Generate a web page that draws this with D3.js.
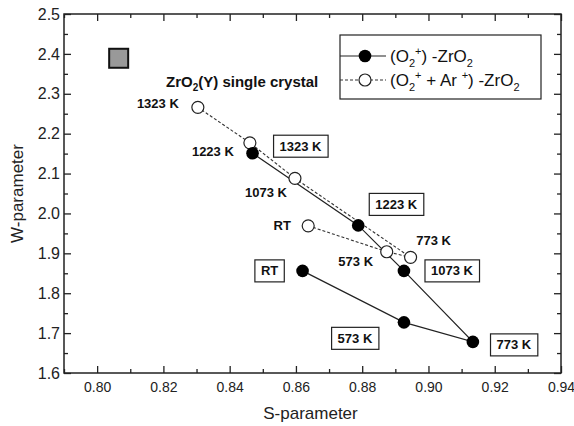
<!DOCTYPE html>
<html>
<head>
<meta charset="utf-8">
<script src="https://cdn.jsdelivr.net/npm/d3@7"></script>
<style>
  body { margin: 0; background: #fff; }
  svg { display: block; font-family: "Liberation Sans", Arial, sans-serif; }
</style>
</head>
<body>
<div id="chart"></div>
<script>
// temperatures, in the order the lines are drawn
const temps = ['RT', '573 K', '773 K', '1073 K', '1223 K', '1323 K'];

// (O2+) -ZrO2, filled circles, solid line
const sFilled = [0.862, 0.8926, 0.9134, 0.8926, 0.8788, 0.8469];
const wFilled = [1.856, 1.727, 1.678, 1.856, 1.970, 2.151];

// (O2+ + Ar+) -ZrO2, open circles, dashed line
const sOpen = [0.8637, 0.8874, 0.8946, 0.8597, 0.8461, 0.8304];
const wOpen = [1.969, 1.904, 1.890, 2.088, 2.177, 2.266];

// single crystal reference point
const sCrystal = [0.8065];
const wCrystal = [2.389];

const xTicks = [0.80, 0.82, 0.84, 0.86, 0.88, 0.90, 0.92, 0.94];
const yTicks = [1.6, 1.7, 1.8, 1.9, 2.0, 2.1, 2.2, 2.3, 2.4, 2.5];

// label placement (pixel offsets from each point)
const filledLabelOffset = [[-33, 0], [-49, 16], [41, 3], [48, 0], [38, -21], [48, -7]];
const openLabelOffset = [[-26, 0], [-31, 10], [23, -17], [-29, 14], [-37, 9], [-40, -4]];

const width = 574, height = 426;
const margin = { left: 64, right: 13, top: 14, bottom: 53 };

const svg = d3.select('#chart').append('svg')
    .attr('width', width)
    .attr('height', height);

const x = d3.scaleLinear().domain([0.79, 0.94]).range([margin.left, width - margin.right]);
const y = d3.scaleLinear().domain([1.6, 2.5]).range([height - margin.bottom, margin.top]);

const x0 = x.range()[0], x1 = x.range()[1];
const y0 = y.range()[0], y1 = y.range()[1];

// Axes with inward ticks
const fmtX = d3.format('.2f'), fmtY = d3.format('.1f');
const minorX = d3.range(0.79, 0.9401, 0.01).map(v => +v.toFixed(2)).filter(v => !xTicks.includes(v));
const minorY = d3.range(1.65, 2.5, 0.1).map(v => +v.toFixed(2));

function drawAxis(axis, transform) {
    const g = svg.append('g').attr('transform', transform).call(axis);
    g.select('.domain').remove();
    g.selectAll('line').attr('stroke', '#222').attr('stroke-width', 1.3);
    return g;
}

drawAxis(d3.axisBottom(x).tickValues(xTicks).tickFormat(fmtX).tickSize(-7).tickPadding(9), `translate(0,${y0})`)
    .selectAll('text').attr('font-size', 14).attr('fill', '#222');
drawAxis(d3.axisBottom(x).tickValues(minorX).tickFormat('').tickSize(-4), `translate(0,${y0})`);
drawAxis(d3.axisTop(x).tickValues(xTicks).tickFormat('').tickSize(-7), `translate(0,${y1})`);
drawAxis(d3.axisTop(x).tickValues(minorX).tickFormat('').tickSize(-4), `translate(0,${y1})`);

drawAxis(d3.axisLeft(y).tickValues(yTicks).tickFormat(fmtY).tickSize(-7).tickPadding(4), `translate(${x0},0)`)
    .selectAll('text').attr('font-size', 16).attr('fill', '#222');
drawAxis(d3.axisLeft(y).tickValues(minorY).tickFormat('').tickSize(-4), `translate(${x0},0)`);
drawAxis(d3.axisRight(y).tickValues(yTicks).tickFormat('').tickSize(-7), `translate(${x1},0)`);
drawAxis(d3.axisRight(y).tickValues(minorY).tickFormat('').tickSize(-4), `translate(${x1},0)`);

// Frame
svg.append('rect')
    .attr('x', x0).attr('y', y1)
    .attr('width', x1 - x0).attr('height', y0 - y1)
    .attr('fill', 'none')
    .attr('stroke', '#222')
    .attr('stroke-width', 1.5);

// Axis titles
svg.append('text')
    .attr('x', (x0 + x1) / 2 - 2)
    .attr('y', 419)
    .attr('text-anchor', 'middle')
    .attr('font-size', 17)
    .attr('fill', '#222')
    .text('S-parameter');

svg.append('text')
    .attr('transform', `translate(23,${(y0 + y1) / 2}) rotate(-90)`)
    .attr('text-anchor', 'middle')
    .attr('font-size', 17)
    .attr('fill', '#222')
    .text('W-parameter');

// Series
const filled = temps.map((t, i) => ({ t, s: sFilled[i], w: wFilled[i], off: filledLabelOffset[i] }));
const open = temps.map((t, i) => ({ t, s: sOpen[i], w: wOpen[i], off: openLabelOffset[i] }));

const line = d3.line().x(d => x(d.s)).y(d => y(d.w));

svg.append('path')
    .datum(open)
    .attr('d', line)
    .attr('fill', 'none')
    .attr('stroke', '#333')
    .attr('stroke-width', 1.1)
    .attr('stroke-dasharray', '3,2');

svg.append('path')
    .datum(filled)
    .attr('d', line)
    .attr('fill', 'none')
    .attr('stroke', '#222')
    .attr('stroke-width', 1.2);

svg.selectAll('.open-pt')
    .data(open)
    .enter().append('circle')
    .attr('cx', d => x(d.s))
    .attr('cy', d => y(d.w))
    .attr('r', 6)
    .attr('fill', '#fff')
    .attr('stroke', '#222')
    .attr('stroke-width', 1.2);

svg.selectAll('.filled-pt')
    .data(filled)
    .enter().append('circle')
    .attr('cx', d => x(d.s))
    .attr('cy', d => y(d.w))
    .attr('r', 6.3)
    .attr('fill', '#000');

// Single crystal square
const sq = 19;
svg.append('rect')
    .attr('x', x(sCrystal[0]) - sq / 2)
    .attr('y', y(wCrystal[0]) - sq / 2)
    .attr('width', sq).attr('height', sq)
    .attr('fill', '#999')
    .attr('stroke', '#111')
    .attr('stroke-width', 2);

const title = svg.append('text')
    .attr('x', 166)
    .attr('y', 87)
    .attr('font-size', 15)
    .attr('font-weight', 'bold')
    .attr('fill', '#111');
title.append('tspan').text('ZrO');
title.append('tspan').attr('font-size', 10).attr('dy', 4).text('2');
title.append('tspan').attr('dy', -4).text('(Y) single crystal');

// Open-series labels (plain)
svg.selectAll('.open-lbl')
    .data(open)
    .enter().append('text')
    .attr('x', d => x(d.s) + d.off[0])
    .attr('y', d => y(d.w) + d.off[1])
    .attr('dy', '0.35em')
    .attr('text-anchor', 'middle')
    .attr('font-size', 13)
    .attr('font-weight', 'bold')
    .attr('fill', '#111')
    .text(d => d.t);

// Filled-series labels (boxed)
const boxed = svg.selectAll('.filled-lbl')
    .data(filled)
    .enter().append('g')
    .attr('transform', d => `translate(${x(d.s) + d.off[0]},${y(d.w) + d.off[1]})`);

boxed.append('text')
    .attr('dy', '0.35em')
    .attr('text-anchor', 'middle')
    .attr('font-size', 13)
    .attr('font-weight', 'bold')
    .attr('fill', '#111')
    .text(d => d.t);

boxed.each(function () {
    const g = d3.select(this);
    const bb = g.select('text').node().getBBox();
    g.insert('rect', 'text')
        .attr('x', bb.x - 6)
        .attr('y', -11)
        .attr('width', bb.width + 12)
        .attr('height', 22)
        .attr('fill', '#fff')
        .attr('stroke', '#222')
        .attr('stroke-width', 1.2);
});

// Legend
const lg = svg.append('g').attr('transform', 'translate(340,35)');
lg.append('rect')
    .attr('width', 201).attr('height', 64)
    .attr('fill', '#fff')
    .attr('stroke', '#222')
    .attr('stroke-width', 1.2);

function legendText(g, parts) {
    const t = g.append('text').attr('x', 50).attr('dy', '0.35em')
        .attr('font-size', 17).attr('fill', '#111');
    parts.forEach(p => {
        const ts = t.append('tspan').text(p.text);
        if (p.dy) ts.attr('dy', p.dy);
        if (p.small) ts.attr('font-size', 11);
    });
}

const row1 = lg.append('g').attr('transform', 'translate(0,21)');
row1.append('line').attr('x1', 0).attr('x2', 46).attr('stroke', '#222').attr('stroke-width', 1.2);
row1.append('circle').attr('cx', 25).attr('r', 6.3).attr('fill', '#000');
legendText(row1, [
    { text: '(O' }, { text: '2', small: true, dy: 5 }, { text: '+', small: true, dy: -12 },
    { text: ') -ZrO', dy: 7 }, { text: '2', small: true, dy: 5 }
]);

const row2 = lg.append('g').attr('transform', 'translate(0,45)');
row2.append('line').attr('x1', 0).attr('x2', 46).attr('stroke', '#333')
    .attr('stroke-width', 1.1).attr('stroke-dasharray', '3,2');
row2.append('circle').attr('cx', 25).attr('r', 6).attr('fill', '#fff')
    .attr('stroke', '#222').attr('stroke-width', 1.2);
legendText(row2, [
    { text: '(O' }, { text: '2', small: true, dy: 5 }, { text: '+', small: true, dy: -12 },
    { text: ' + Ar ', dy: 7 }, { text: '+', small: true, dy: -7 },
    { text: ') -ZrO', dy: 7 }, { text: '2', small: true, dy: 5 }
]);
</script>
</body>
</html>
